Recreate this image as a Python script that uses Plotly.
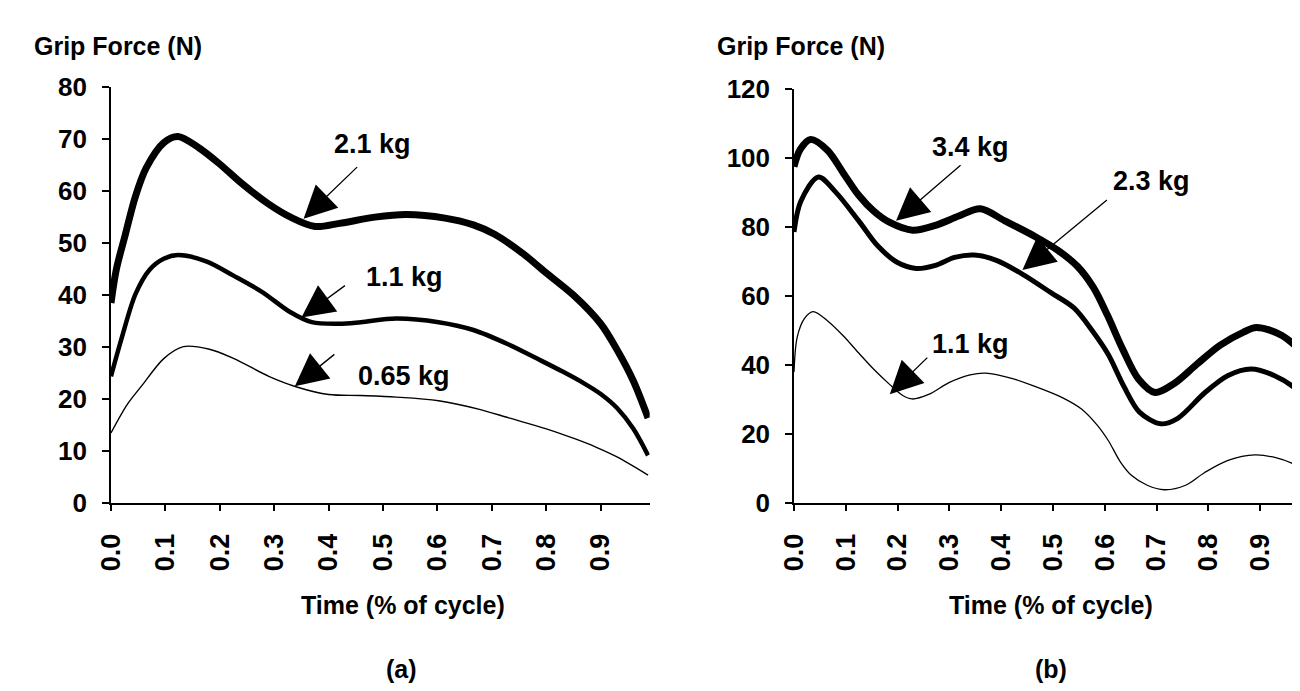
import plotly.graph_objects as go

# ---------------- data ----------------
# Panel (a)
t_a_21 = [0, 0.01, 0.026, 0.045, 0.065, 0.097, 0.123, 0.162, 0.2, 0.24, 0.29, 0.33, 0.375,
          0.42, 0.485, 0.543, 0.614, 0.666, 0.705, 0.757, 0.796, 0.85, 0.9, 0.93, 0.96, 0.987]
g_a_21 = [38.5, 45, 51.5, 59, 64.5, 69.3, 70.5, 68.3, 65.2, 61.5, 57.5, 55, 53.2,
          53.8, 55, 55.5, 54.8, 53.5, 51.7, 48, 44.6, 40, 34.5, 29.5, 23.5, 16.4]

t_a_11 = [0, 0.019, 0.045, 0.071, 0.097, 0.123, 0.175, 0.226, 0.278, 0.33, 0.369, 0.42,
          0.459, 0.524, 0.602, 0.666, 0.731, 0.783, 0.83, 0.87, 0.9, 0.93, 0.96, 0.987]
g_a_11 = [24.4, 31.5, 40.2, 44.9, 47, 47.7, 46.5, 43.7, 40.6, 36.7, 34.8, 34.5,
          34.8, 35.5, 34.8, 33.3, 30.5, 27.8, 25.3, 23, 21, 18.3, 14.3, 9.2]

t_a_065 = [0, 0.03, 0.056, 0.097, 0.133, 0.181, 0.226, 0.29, 0.343, 0.4, 0.459, 0.524,
           0.602, 0.679, 0.731, 0.8, 0.852, 0.891, 0.93, 0.987]
g_a_065 = [13.5, 19, 22.5, 27.8, 30.1, 29.6, 27.8, 24.4, 22.3, 20.9, 20.7, 20.4,
           19.7, 18, 16.4, 14.3, 12.4, 10.8, 8.9, 5.4]

# Panel (b)
t_b_34 = [0, 0.012, 0.032, 0.065, 0.095, 0.125, 0.154, 0.184, 0.229, 0.273, 0.318, 0.36,
          0.407, 0.466, 0.511, 0.548, 0.578, 0.605, 0.635, 0.665, 0.697, 0.734, 0.778, 0.823,
          0.867, 0.893, 0.942, 0.992]
g_b_34 = [97.5, 102.5, 105.4, 102.2, 95.7, 89.2, 84.6, 81.4, 79.1, 80.5, 83.2, 85.3,
          81.8, 77.2, 73.1, 68.5, 62.5, 54.5, 44.5, 36, 32.1, 34.7, 40.3, 45.8,
          49.5, 50.9, 48.6, 42.1]

t_b_23 = [0, 0.013, 0.047, 0.08, 0.125, 0.162, 0.199, 0.236, 0.273, 0.31, 0.348, 0.392,
          0.444, 0.496, 0.541, 0.578, 0.607, 0.637, 0.667, 0.708, 0.741, 0.793, 0.838,
          0.882, 0.927, 0.971, 0.992]
g_b_23 = [78.6, 87.4, 94.5, 90.2, 81.8, 74.5, 69.8, 68, 68.9, 71.2, 71.9, 70.3,
          66.1, 61, 56.5, 49.5, 43, 33.8, 26.4, 23, 24.6, 32, 37,
          38.9, 37, 32.9, 29.7]

t_b_11 = [0, 0.006, 0.02, 0.037, 0.065, 0.095, 0.125, 0.154, 0.184, 0.21, 0.228, 0.26,
          0.3, 0.34, 0.37, 0.422, 0.466, 0.518, 0.555, 0.585, 0.607, 0.63, 0.652, 0.682,
          0.715, 0.756, 0.793, 0.838, 0.89, 0.93, 0.964, 0.992]
g_b_11 = [38, 48, 53.5, 55.5, 52.8, 48.5, 43.5, 38.8, 34.5, 31.2, 30.2, 31.5,
          35, 37.2, 37.7, 36.1, 33.8, 30.6, 27.3, 22.7, 18.1, 12, 8, 5.2,
          3.9, 5.2, 8.9, 12.4, 14, 13.2, 11.4, 8.9]

x_ticks = [0.0, 0.1, 0.2, 0.3, 0.4, 0.5, 0.6, 0.7, 0.8, 0.9]
x_tick_text = ["0.0", "0.1", "0.2", "0.3", "0.4", "0.5", "0.6", "0.7", "0.8", "0.9"]
y_ticks_a = [0, 10, 20, 30, 40, 50, 60, 70, 80]
y_ticks_b = [0, 20, 40, 60, 80, 100, 120]

# labels: (text, tip x, tip y, text x, text y, arrow tail dx, dy)
labels_a = [("2.1 kg", 0.354, 54.7, 0.481, 69.1, 55, -53),
            ("1.1 kg", 0.350, 35.7, 0.540, 43.4, 45, -33),
            ("0.65 kg", 0.338, 22.5, 0.538, 24.5, 41, -33)]
labels_b = [("3.4 kg", 0.197, 81.8, 0.340, 103.1, 66, -57),
            ("2.3 kg", 0.441, 67.6, 0.691, 93.4, 86, -71),
            ("1.1 kg", 0.185, 31.6, 0.340, 46.0, 39, -38)]

# ---------------- figure ----------------
W, H = 1300, 691
FONT = "Liberation Sans, Arial, sans-serif"

fig = go.Figure()

def add_line(t, g, width, xa, ya):
    fig.add_trace(go.Scatter(x=t, y=g, mode="lines", xaxis=xa, yaxis=ya,
                             line=dict(color="black", width=width, shape="spline", smoothing=0.9),
                             hoverinfo="skip", showlegend=False))

add_line(t_a_21, g_a_21, 7, "x", "y")
add_line(t_a_11, g_a_11, 4.5, "x", "y")
add_line(t_a_065, g_a_065, 1.4, "x", "y")
add_line(t_b_34, g_b_34, 7, "x2", "y2")
add_line(t_b_23, g_b_23, 5, "x2", "y2")
add_line(t_b_11, g_b_11, 1.3, "x2", "y2")

ybot = (H - 502) / H
dom_xa = [89 / W, 634 / W]
dom_xb = [780 / W, 1.0]
dom_ya = [ybot, (H - 67) / H]
dom_yb = [ybot, (H - 69) / H]
range_xa = [0, 0.99]
range_xb = [0, 520 / 524]

tickfont = dict(family=FONT, size=26, color="black", weight="bold")
xtickfont = dict(family=FONT, size=27, color="black", weight="bold")

def xaxis(domain, rng, anchor):
    return dict(domain=domain, range=rng, anchor=anchor, tickvals=x_ticks, ticktext=x_tick_text,
                tickangle=-90, ticks="outside", ticklen=6, tickwidth=1.5, tickcolor="black",
                showline=True, linecolor="black", linewidth=1.5, showgrid=False, zeroline=False,
                tickfont=xtickfont, ticklabelstandoff=12, fixedrange=True)

def yaxis(domain, rng, ticks, anchor):
    return dict(domain=domain, range=rng, anchor=anchor, tickvals=ticks,
                ticks="outside", ticklen=7, tickwidth=1.5, tickcolor="black",
                showline=True, linecolor="black", linewidth=1.5, showgrid=False, zeroline=False,
                tickfont=tickfont, ticklabelstandoff=10, fixedrange=True)

def x_inner(over, rng, anchor):
    return dict(overlaying=over, range=rng, anchor=anchor, tickvals=x_ticks, ticks="inside",
                ticklen=6, tickwidth=1.5, tickcolor="black", showticklabels=False,
                showline=False, showgrid=False, zeroline=False, fixedrange=True)

def y_inner(over, rng, ticks, anchor):
    return dict(overlaying=over, range=rng, anchor=anchor, tickvals=ticks, ticks="inside",
                ticklen=7, tickwidth=1.5, tickcolor="black", showticklabels=False,
                showline=False, showgrid=False, zeroline=False, fixedrange=True)

annotations = []
def add_labels(labels, xr, yr):
    for text, tx, ty, lx, ly, dx, dy in labels:
        annotations.append(dict(x=tx, y=ty, xref=xr, yref=yr, ax=dx, ay=dy, text="",
                                showarrow=True, arrowhead=2, arrowsize=5, arrowwidth=1.3,
                                arrowcolor="black", standoff=0))
        annotations.append(dict(x=lx, y=ly, xref=xr, yref=yr, text=text, showarrow=False,
                                font=dict(family=FONT, size=27, color="black", weight="bold"),
                                xanchor="center", yanchor="middle"))

add_labels(labels_a, "x", "y")
add_labels(labels_b, "x2", "y2")

title_font = dict(family=FONT, size=25, color="black", weight="bold")
for txt, px, py, anc in [("Grip Force (N)", 9, 24, "left"),
                         ("Grip Force (N)", 700, 24, "left"),
                         ("Time (% of cycle)", 384, 608, "center"),
                         ("Time (% of cycle)", 1040, 608, "center"),
                         ("(a)", 383, 675, "center"),
                         ("(b)", 1040, 675, "center")]:
    annotations.append(dict(x=px / W, y=(H - py) / H, xref="paper", yref="paper", text=txt,
                            showarrow=False, xanchor=anc, yanchor="middle", font=title_font))

fig.update_layout(
    width=W, height=H, margin=dict(l=0, r=0, t=0, b=0),
    paper_bgcolor="white", plot_bgcolor="white", showlegend=False,
    font=dict(family=FONT, color="black"),
    xaxis=xaxis(dom_xa, range_xa, "y"),
    yaxis=yaxis(dom_ya, [0, 80], y_ticks_a, "x"),
    xaxis2=xaxis(dom_xb, range_xb, "y2"),
    yaxis2=yaxis(dom_yb, [0, 120], y_ticks_b, "x2"),
    xaxis3=x_inner("x", range_xa, "y"),
    yaxis3=y_inner("y", [0, 80], y_ticks_a, "x"),
    xaxis4=x_inner("x2", range_xb, "y2"),
    yaxis4=y_inner("y2", [0, 120], y_ticks_b, "x2"),
    annotations=annotations,
)

fig.write_html("out.html")
